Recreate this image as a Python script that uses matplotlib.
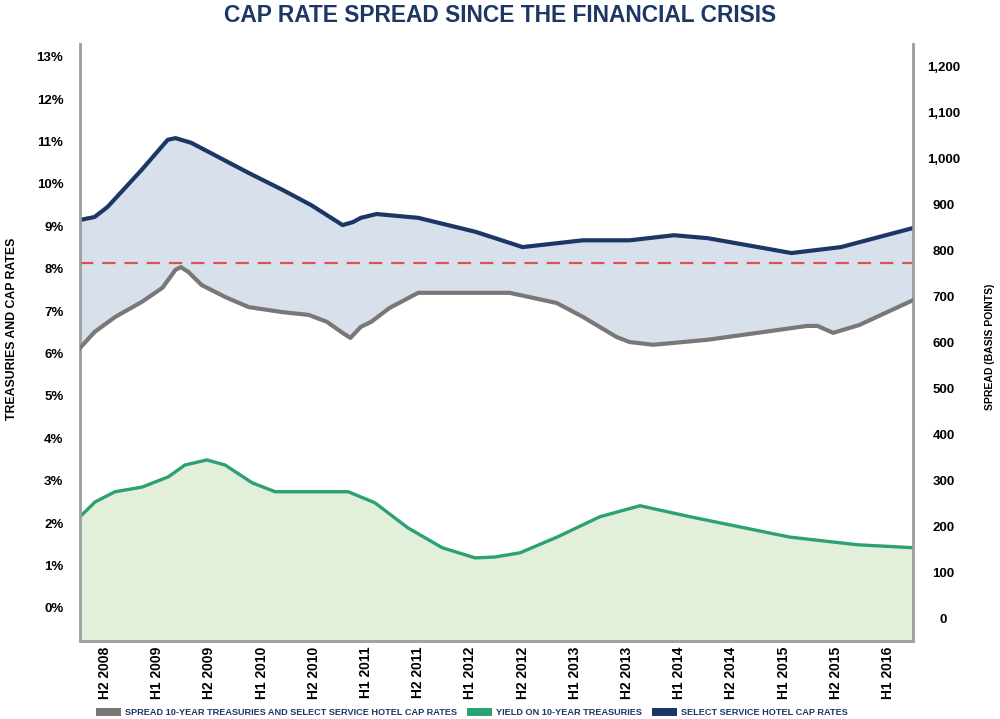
import numpy as np
import matplotlib
matplotlib.use("Agg")
import matplotlib.pyplot as plt
from matplotlib.patches import Patch

plt.rcParams['font.family'] = ['Liberation Sans', 'DejaVu Sans']

# half-year periods on the x axis
periods = ['H2 2008', 'H1 2009', 'H2 2009', 'H1 2010', 'H2 2010', 'H1 2011',
           'H2 2011', 'H1 2012', 'H2 2012', 'H1 2013', 'H2 2013', 'H1 2014',
           'H2 2014', 'H1 2015', 'H2 2015', 'H1 2016']

# select service hotel cap rates (%), position in periods
cap_t = [-0.48, -0.2, 0.05, 0.7, 1.2, 1.35, 1.65, 2.1, 2.75, 3.4, 3.95, 4.55, 4.75,
         4.9, 5.2, 6.0, 7.1, 8.0, 9.15, 10.05, 10.9, 11.55, 13.15, 14.1, 15.48]
cap_rate = [9.15, 9.22, 9.46, 10.33, 11.04, 11.08, 10.97, 10.68, 10.26, 9.86, 9.50, 9.03, 9.10,
            9.20, 9.29, 9.20, 8.87, 8.51, 8.67, 8.67, 8.79, 8.72, 8.37, 8.51, 8.96]

# spread (basis points)
spread_t = [-0.48, -0.2, 0.2, 0.7, 1.1, 1.35, 1.45, 1.6, 1.85, 2.3, 2.75, 3.4, 3.9, 4.25,
            4.55, 4.7, 4.9, 5.1, 5.45, 6.0, 6.6, 7.75, 8.65, 9.15, 9.8, 10.05, 10.5,
            11.55, 12.5, 13.45, 13.65, 13.95, 14.45, 15.48]
spread_bp = [589, 624, 657, 689, 720, 759, 765, 754, 726, 700, 678, 667, 661, 646,
             622, 611, 635, 646, 676, 709, 709, 709, 687, 657, 613, 602, 596,
             607, 622, 637, 637, 622, 639, 693]
avg_spread = 774

# yield on 10-year treasuries (%)
tsy_t = [-0.48, -0.19, 0.19, 0.71, 1.21, 1.53, 1.95, 2.3, 2.82, 3.26, 3.89, 4.66, 5.17,
         5.8, 6.46, 7.09, 7.47, 7.95, 8.66, 9.48, 10.25, 11.21, 13.12, 14.41, 15.48]
tsy_yield = [2.15, 2.50, 2.74, 2.85, 3.09, 3.37, 3.49, 3.37, 2.95, 2.74, 2.74, 2.74, 2.48,
             1.89, 1.42, 1.18, 1.20, 1.30, 1.67, 2.15, 2.41, 2.15, 1.67, 1.49, 1.42]

left_ticks = list(range(0, 14))
right_ticks = list(range(0, 1300, 100))

navy = '#1c3766'
grey = '#7a7777'
green = '#2ba174'

fig = plt.figure(figsize=(10, 7.19), dpi=100)
ax = fig.add_axes([0.08, 0.1085, 0.833, 0.8303])
ax2 = ax.twinx()

lo1, hi1 = -0.78, 13.30
lo2, hi2 = -48, 1250
ax.set_ylim(lo1, hi1)
ax2.set_ylim(lo2, hi2)
ax.set_xlim(-0.48, 15.48)

# spread expressed in left-axis units so the band can be filled
def bp_to_left(bp):
    return lo1 + (np.asarray(bp) - lo2) / (hi2 - lo2) * (hi1 - lo1)

ax.fill_between(tsy_t, tsy_yield, lo1, color='#e2efd9', lw=0, zorder=1)
band_x = np.concatenate([cap_t, spread_t[::-1]])
band_y = np.concatenate([cap_rate, bp_to_left(spread_bp)[::-1]])
ax.fill(band_x, band_y, color='#d8e0ec', lw=0, zorder=1)

ax.plot(tsy_t, tsy_yield, color=green, lw=2.4, zorder=3, solid_joinstyle='round')
ax.plot(cap_t, cap_rate, color=navy, lw=3.0, zorder=3, solid_joinstyle='round')
ax2.axhline(avg_spread, color='#d9534f', lw=1.6, dashes=(6, 4), zorder=2)
ax2.plot(spread_t, spread_bp, color=grey, lw=3.0, zorder=3, solid_joinstyle='round')

ax.set_xticks(range(len(periods)))
ax.set_xticklabels(periods, rotation=90, fontsize=10, fontweight='bold')
ax.set_yticks(left_ticks)
ax.set_yticklabels([f'{v}%' for v in left_ticks], fontsize=9.5, fontweight='bold')
ax2.set_yticks(right_ticks)
ax2.set_yticklabels([f'{v:,}' for v in right_ticks], fontsize=9.5, fontweight='bold', ha='center')
ax.tick_params(axis='both', length=0)
ax.tick_params(axis='y', pad=12)
ax.tick_params(axis='x', pad=4)
ax2.tick_params(axis='y', length=0, pad=22)

for a in (ax, ax2):
    a.spines['top'].set_visible(False)
    for s in ('left', 'right', 'bottom'):
        a.spines[s].set_color('#a0a0a0')
        a.spines[s].set_linewidth(1.8)

fig.text(0.5, 0.978, 'CAP RATE SPREAD SINCE THE FINANCIAL CRISIS', ha='center', va='center',
         fontsize=16.4, fontweight='bold', color=navy)
fig.text(0.012, 0.543, 'TREASURIES AND CAP RATES', rotation=90, ha='center', va='center',
         fontsize=8.8, fontweight='bold')
fig.text(0.99, 0.517, 'SPREAD (BASIS POINTS)', rotation=90, ha='center', va='center',
         fontsize=7.5, fontweight='bold')

handles = [Patch(facecolor=grey, label='SPREAD 10-YEAR TREASURIES AND SELECT SERVICE HOTEL CAP RATES'),
           Patch(facecolor=green, label='YIELD ON 10-YEAR TREASURIES'),
           Patch(facecolor=navy, label='SELECT SERVICE HOTEL CAP RATES')]
leg = fig.legend(handles=handles, loc='lower center', bbox_to_anchor=(0.472, -0.009), ncol=3,
                 frameon=False, fontsize=6.6, handlelength=2.7, handleheight=0.9,
                 columnspacing=1.1, handletextpad=0.45)
for t in leg.get_texts():
    t.set_color(navy)
    t.set_fontweight('bold')

fig.savefig('out.png', dpi=100)
